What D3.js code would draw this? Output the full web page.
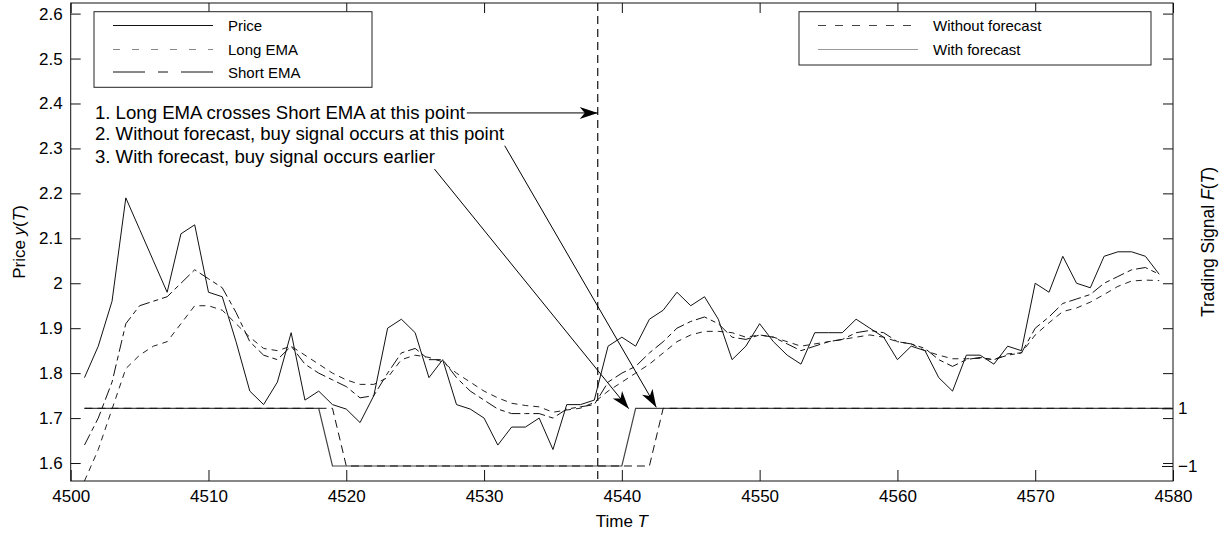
<!DOCTYPE html>
<html>
<head>
<meta charset="utf-8">
<script src="https://cdn.jsdelivr.net/npm/d3@7"></script>
<style>
  html, body { margin: 0; padding: 0; background: #fff; }
  svg { display: block; font-family: "Liberation Sans", Arial, Helvetica, sans-serif; }
</style>
</head>
<body>
<svg id="chart" width="1228" height="535"></svg>
<script>
// ---- data -------------------------------------------------------------
const firstTime = 4501;

const price = [
  1.79, 1.86, 1.96, 2.19, 2.12, 2.05, 1.98, 2.11, 2.13, 1.98,
  1.97, 1.87, 1.76, 1.73, 1.78, 1.89, 1.74, 1.76, 1.73, 1.72,
  1.69, 1.75, 1.90, 1.92, 1.89, 1.79, 1.83, 1.73, 1.72, 1.70,
  1.64, 1.68, 1.68, 1.70, 1.63, 1.73, 1.73, 1.74, 1.86, 1.88,
  1.86, 1.92, 1.94, 1.98, 1.95, 1.97, 1.92, 1.83, 1.86, 1.91,
  1.87, 1.84, 1.82, 1.89, 1.89, 1.89, 1.92, 1.90, 1.88, 1.83,
  1.86, 1.85, 1.79, 1.76, 1.84, 1.84, 1.82, 1.86, 1.85, 2.00,
  1.98, 2.06, 2.00, 1.99, 2.06, 2.07, 2.07, 2.06, 2.02
];

const longEma = [
  1.56, 1.63, 1.72, 1.81, 1.84, 1.86, 1.87, 1.91, 1.95, 1.95,
  1.94, 1.91, 1.88, 1.855, 1.85, 1.86, 1.84, 1.82, 1.80, 1.785,
  1.775, 1.775, 1.79, 1.83, 1.84, 1.835, 1.825, 1.80, 1.78, 1.76,
  1.745, 1.733, 1.728, 1.725, 1.713, 1.718, 1.722, 1.735, 1.76, 1.78,
  1.80, 1.82, 1.845, 1.87, 1.885, 1.893, 1.893, 1.89, 1.88, 1.885,
  1.88, 1.87, 1.86, 1.865, 1.87, 1.875, 1.88, 1.885, 1.88, 1.87,
  1.865, 1.85, 1.84, 1.832, 1.832, 1.833, 1.83, 1.843, 1.845, 1.885,
  1.912, 1.937, 1.945, 1.958, 1.975, 1.993, 2.005, 2.007, 2.006
];

const shortEma = [
  1.64, 1.70, 1.78, 1.91, 1.95, 1.96, 1.97, 2.00, 2.03, 2.01,
  1.99, 1.935, 1.87, 1.84, 1.83, 1.86, 1.82, 1.80, 1.785, 1.77,
  1.745, 1.75, 1.80, 1.845, 1.855, 1.83, 1.83, 1.79, 1.76, 1.74,
  1.72, 1.71, 1.71, 1.71, 1.70, 1.72, 1.725, 1.73, 1.78, 1.80,
  1.815, 1.845, 1.87, 1.90, 1.915, 1.925, 1.91, 1.88, 1.875, 1.885,
  1.88, 1.865, 1.85, 1.86, 1.87, 1.875, 1.89, 1.895, 1.89, 1.87,
  1.865, 1.855, 1.83, 1.815, 1.83, 1.835, 1.83, 1.84, 1.845, 1.90,
  1.925, 1.955, 1.965, 1.975, 2.00, 2.015, 2.03, 2.035, 2.02
];

// trading signal F(T), one value per time step from firstTime to 4580
const signalWithoutForecast = [
  1, 1, 1, 1, 1, 1, 1, 1, 1, 1, 1, 1, 1, 1, 1, 1, 1, 1, 1,
  -1, -1, -1, -1, -1, -1, -1, -1, -1, -1, -1, -1, -1, -1, -1, -1, -1, -1, -1, -1, -1, -1, -1,
  1, 1, 1, 1, 1, 1, 1, 1, 1, 1, 1, 1, 1, 1, 1, 1, 1, 1, 1, 1,
  1, 1, 1, 1, 1, 1, 1, 1, 1, 1, 1, 1, 1, 1, 1, 1, 1, 1
];
const signalWithForecast = [
  1, 1, 1, 1, 1, 1, 1, 1, 1, 1, 1, 1, 1, 1, 1, 1, 1, 1,
  -1, -1, -1, -1, -1, -1, -1, -1, -1, -1, -1, -1, -1, -1, -1, -1, -1, -1, -1, -1, -1, -1,
  1, 1, 1, 1, 1, 1, 1, 1, 1, 1, 1, 1, 1, 1, 1, 1, 1, 1, 1, 1,
  1, 1, 1, 1, 1, 1, 1, 1, 1, 1, 1, 1, 1, 1, 1, 1, 1, 1, 1, 1
];

const timeTicks = [4500, 4510, 4520, 4530, 4540, 4550, 4560, 4570, 4580];
const priceTicks = [1.6, 1.7, 1.8, 1.9, 2.0, 2.1, 2.2, 2.3, 2.4, 2.5, 2.6];
const priceTickLabels = ["1.6", "1.7", "1.8", "1.9", "2", "2.1", "2.2", "2.3", "2.4", "2.5", "2.6"];
const signalTicks = [-1, 1];

// time at which the long EMA crosses the short EMA
const crossTime = 4538.25;

const notes = [
  "1. Long EMA crosses Short EMA at this point",
  "2. Without forecast, buy signal occurs at this point",
  "3. With forecast, buy signal occurs earlier"
];

// ---- layout ------------------------------------------------------------
const svg = d3.select("#chart");
const plot = { left: 70.7, right: 1173, top: 3, bottom: 481 };

const x = d3.scaleLinear().domain([4500, 4580]).range([plot.left, plot.right]);
const y = d3.scaleLinear().domain([1.56, 2.6236]).range([plot.bottom, plot.top]);
const ySig = d3.scaleLinear().domain([-1.52, 15.05]).range([plot.bottom, plot.top]);

const ink = "#111";
const tickFont = 17;

const styles = {
  price:   { stroke: "#111", width: 1, dash: null },
  longEma: { stroke: "#222", width: 1, dash: "6,5" },
  shortEma:{ stroke: "#111", width: 1, dash: "12,4,5,4" },
  without: { stroke: "#111", width: 1, dash: "8,5" },
  withF:   { stroke: "#444", width: 1.2, dash: null }
};

const series = (vals) => vals.map((v, i) => ({ t: firstTime + i, v }));

const lineL = d3.line().x(d => x(d.t)).y(d => y(d.v));
const lineR = d3.line().x(d => x(d.t)).y(d => ySig(d.v));

svg.append("defs").append("clipPath").attr("id", "plotClip")
  .append("rect")
  .attr("x", plot.left).attr("y", plot.top)
  .attr("width", plot.right - plot.left).attr("height", plot.bottom - plot.top);

const g = svg.append("g").attr("clip-path", "url(#plotClip)");

function drawPath(path, st, d, gen) {
  path.datum(d)
    .attr("fill", "none")
    .attr("stroke", st.stroke)
    .attr("stroke-width", st.width)
    .attr("stroke-dasharray", st.dash)
    .attr("stroke-linejoin", "miter")
    .attr("d", gen);
}

// trading signals (right axis)
drawPath(g.append("path"), styles.withF, series(signalWithForecast), lineR);
drawPath(g.append("path"), styles.without, series(signalWithoutForecast), lineR);

// price and moving averages (left axis)
drawPath(g.append("path"), styles.longEma, series(longEma), lineL);
drawPath(g.append("path"), styles.shortEma, series(shortEma), lineL);
drawPath(g.append("path"), styles.price, series(price), lineL);

// vertical marker at the EMA crossing
g.append("line")
  .attr("x1", x(crossTime)).attr("x2", x(crossTime))
  .attr("y1", plot.top).attr("y2", plot.bottom)
  .attr("stroke", "#111").attr("stroke-width", 1.2)
  .attr("stroke-dasharray", "8,5");

// ---- axes --------------------------------------------------------------
const axisG = svg.append("g");

const xAxis = axisG.append("g")
  .attr("transform", `translate(0,${plot.bottom})`)
  .call(d3.axisBottom(x).tickValues(timeTicks).tickFormat(d3.format("d"))
    .tickSize(-11).tickPadding(9));
const xTop = axisG.append("g")
  .attr("transform", `translate(0,${plot.top})`)
  .call(d3.axisTop(x).tickValues(timeTicks).tickFormat("").tickSize(-10));

const yAxis = axisG.append("g")
  .attr("transform", `translate(${plot.left},0)`)
  .call(d3.axisLeft(y).tickValues(priceTicks)
    .tickFormat((d, i) => priceTickLabels[i])
    .tickSize(-10).tickPadding(8));
const yMirror = axisG.append("g")
  .attr("transform", `translate(${plot.right},0)`)
  .call(d3.axisRight(y).tickValues(priceTicks).tickFormat("").tickSize(-10));
const ySigAxis = axisG.append("g")
  .attr("transform", `translate(${plot.right},0)`)
  .call(d3.axisRight(ySig).tickValues(signalTicks).tickFormat(d3.format("d"))
    .tickSize(-11).tickPadding(5));

[xAxis, xTop, yAxis, yMirror, ySigAxis].forEach(a => {
  a.select(".domain").remove();
  a.attr("font-family", null);
  a.selectAll(".tick line").attr("stroke", ink).attr("stroke-width", 1);
  a.selectAll(".tick text").attr("fill", "#000").attr("font-size", tickFont);
});

// frame
svg.append("rect")
  .attr("x", plot.left).attr("y", plot.top)
  .attr("width", plot.right - plot.left).attr("height", plot.bottom - plot.top)
  .attr("fill", "none").attr("stroke", ink).attr("stroke-width", 1);

// axis titles
const xTitle = svg.append("text")
  .attr("x", (plot.left + plot.right) / 2).attr("y", 527)
  .attr("text-anchor", "middle").attr("font-size", 17);
xTitle.append("tspan").text("Time ");
xTitle.append("tspan").attr("font-style", "italic").text("T");

const yTitle = svg.append("text")
  .attr("transform", `translate(25,${(plot.top + plot.bottom) / 2}) rotate(-90)`)
  .attr("text-anchor", "middle").attr("font-size", 17);
yTitle.append("tspan").text("Price ");
yTitle.append("tspan").attr("font-style", "italic").text("y");
yTitle.append("tspan").text("(");
yTitle.append("tspan").attr("font-style", "italic").text("T");
yTitle.append("tspan").text(")");

const y2Title = svg.append("text")
  .attr("transform", `translate(1214,${(plot.top + plot.bottom) / 2}) rotate(-90)`)
  .attr("text-anchor", "middle").attr("font-size", 17.5);
y2Title.append("tspan").text("Trading Signal ");
y2Title.append("tspan").attr("font-style", "italic").text("F");
y2Title.append("tspan").text("(");
y2Title.append("tspan").attr("font-style", "italic").text("T");
y2Title.append("tspan").text(")");

// ---- annotations -------------------------------------------------------
const noteTime = 4501.76;
const noteValues = [2.366, 2.318, 2.268];
notes.forEach((s, i) => {
  svg.append("text")
    .attr("x", x(noteTime)).attr("y", y(noteValues[i]))
    .attr("font-size", 18.6).attr("fill", "#000")
    .text(s);
});

// arrows: [fromTime, fromValue, toTime, toValue]
const arrows = [
  [4528.75, 2.379, crossTime, 2.379],
  [4531.5, 2.306, 4542.5, 1.724],
  [4526.4, 2.254, 4540.5, 1.721]
];
arrows.forEach(([t0, v0, t1, v1]) => {
  const x0 = x(t0), y0 = y(v0), x1 = x(t1), y1 = y(v1);
  svg.append("line")
    .attr("x1", x0).attr("y1", y0).attr("x2", x1).attr("y2", y1)
    .attr("stroke", "#000").attr("stroke-width", 1);
  const ang = Math.atan2(y1 - y0, x1 - x0) * 180 / Math.PI;
  const L = 18, W = 12;
  svg.append("path")
    .attr("d", `M0,0 L${-L},${-W / 2} L${-L * 0.72},0 L${-L},${W / 2} Z`)
    .attr("transform", `translate(${x1},${y1}) rotate(${ang})`)
    .attr("fill", "#000");
});

// ---- legends -----------------------------------------------------------
function legend(box, entries) {
  const lg = svg.append("g");
  lg.append("rect")
    .attr("x", box.x).attr("y", box.y).attr("width", box.w).attr("height", box.h)
    .attr("fill", "#fff").attr("stroke", "#222").attr("stroke-width", 1);
  entries.forEach((e, i) => {
    const yy = box.rows[i];
    lg.append("line")
      .attr("x1", box.x + 19).attr("x2", box.x + 119)
      .attr("y1", yy).attr("y2", yy)
      .attr("stroke", e.style.stroke).attr("stroke-width", e.style.width)
      .attr("stroke-dasharray", e.legendDash || e.style.dash);
    lg.append("text")
      .attr("x", box.x + 134).attr("y", yy + 5.5)
      .attr("font-size", 15).attr("fill", "#000")
      .text(e.label);
  });
}

legend({ x: 94, y: 11.7, w: 278, h: 75.6, rows: [25.5, 49.5, 72] }, [
  { label: "Price", style: styles.price },
  { label: "Long EMA", style: { stroke: "#888", width: 1, dash: "7,12" }, legendDash: "7,12" },
  { label: "Short EMA", style: styles.shortEma, legendDash: "32,13,10,13" }
]);

legend({ x: 799, y: 11.7, w: 352, h: 53.3, rows: [25.5, 49.5] }, [
  { label: "Without forecast", style: { stroke: "#444", width: 1, dash: "8,9" } },
  { label: "With forecast", style: { stroke: "#999", width: 1, dash: null } }
]);
</script>
</body>
</html>
